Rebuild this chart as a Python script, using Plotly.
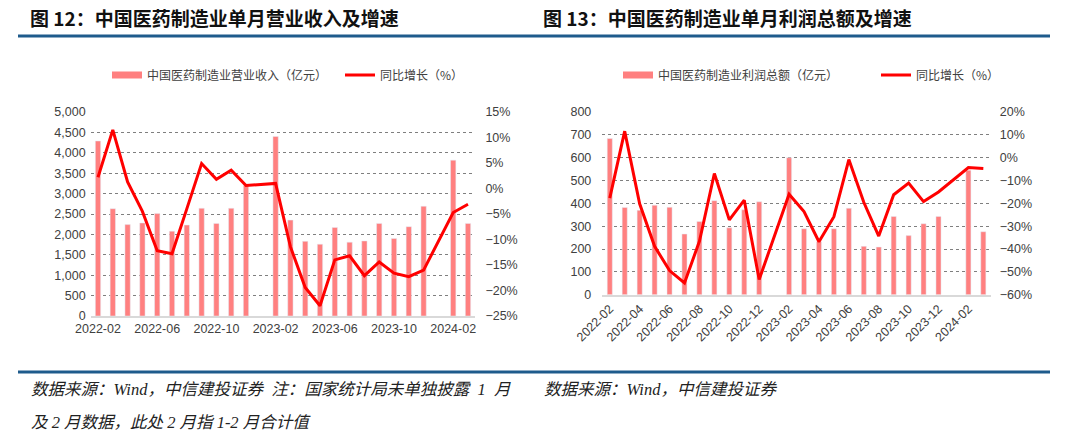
import plotly.graph_objects as go

months = ["2022-02", "2022-03", "2022-04", "2022-05", "2022-06", "2022-07", "2022-08",
          "2022-09", "2022-10", "2022-11", "2022-12", "2023-01", "2023-02", "2023-03",
          "2023-04", "2023-05", "2023-06", "2023-07", "2023-08", "2023-09", "2023-10",
          "2023-11", "2023-12", "2024-01", "2024-02", "2024-03"]

revenue = [4290, 2630, 2240, 2280, 2510, 2080, 2230, 2640, 2270, 2640, 3200, None,
           4400, 2350, 1830, 1760, 2170, 1810, 1840, 2270, 1900, 2190, 2690, None,
           3820, 2270]
revenue_yoy = [2.2, 11.5, 1.3, -4.5, -12.2, -12.8, -4.0, 4.9, 1.8, 3.6, 0.6, None,
               1.0, -11.4, -19.4, -23.0, -14.0, -13.2, -17.1, -14.4, -16.6, -17.3, -16.0, None,
               -4.7, -3.1]

profit = [684, 382, 370, 392, 383, 266, 321, 412, 293, 372, 407, None,
          600, 289, 232, 289, 379, 212, 209, 343, 259, 311, 343, None,
          545, 276]
profit_yoy = [-17.7, 11.6, -20.2, -38.8, -49.4, -54.8, -36.6, -6.9, -27.2, -18.6, -53.3, None,
              -16.0, -23.6, -36.8, -25.8, -0.8, -19.5, -34.3, -16.2, -11.1, -19.2, -15.0, None,
              -4.3, -4.7]

left_ticks = ["2022-02", "2022-06", "2022-10", "2023-02", "2023-06", "2023-10", "2024-02"]
right_ticks = ["2022-02", "2022-04", "2022-06", "2022-08", "2022-10", "2022-12", "2023-02",
               "2023-04", "2023-06", "2023-08", "2023-10", "2023-12", "2024-02"]

title_left = "图 12：中国医药制造业单月营业收入及增速"
title_right = "图 13：中国医药制造业单月利润总额及增速"
name_rev = "中国医药制造业营业收入（亿元）"
name_profit = "中国医药制造业利润总额（亿元）"
name_yoy = "同比增长（%）"
note_left_1 = "数据来源：Wind，中信建投证券  注：国家统计局未单独披露  1  月"
note_left_2 = "及 2 月数据，此处 2 月指 1-2 月合计值"
note_right = "数据来源：Wind，中信建投证券"

W, H = 1080, 442
BAR = "#FF8080"
RED = "#FF0000"
BLUE = "#1E5B8C"
TXT = "#404040"
CJK = "Noto Sans CJK SC"
NUM = "Liberation Sans, Arial, sans-serif"


def px(x):
    return x / W


def py(y):
    return 1 - y / H


fig = go.Figure()

# left chart
fig.add_trace(go.Bar(x=months, y=revenue, xaxis="x", yaxis="y", marker_color=BAR,
                     width=0.36, showlegend=False, name=name_rev))
fig.add_trace(go.Scatter(x=[None], y=[None], xaxis="x", yaxis="y", mode="lines",
                         line=dict(color=BAR, width=7), name=name_rev, legend="legend"))
fig.add_trace(go.Scatter(x=months, y=revenue_yoy, xaxis="x", yaxis="y2", mode="lines",
                         line=dict(color=RED, width=3), connectgaps=True,
                         name=name_yoy, legend="legend"))

# right chart
fig.add_trace(go.Bar(x=months, y=profit, xaxis="x2", yaxis="y3", marker_color=BAR,
                     width=0.34, showlegend=False, name=name_profit))
fig.add_trace(go.Scatter(x=[None], y=[None], xaxis="x2", yaxis="y3", mode="lines",
                         line=dict(color=BAR, width=7), name=name_profit, legend="legend2"))
fig.add_trace(go.Scatter(x=months, y=profit_yoy, xaxis="x2", yaxis="y4", mode="lines",
                         line=dict(color=RED, width=3), connectgaps=True,
                         name=name_yoy, legend="legend2"))

tickfont = dict(family=NUM, size=12.5, color=TXT)

fig.update_layout(
    width=W, height=H,
    margin=dict(l=0, r=0, t=0, b=0, autoexpand=False),
    paper_bgcolor="white", plot_bgcolor="white",
    hovermode=False,
    xaxis=dict(domain=[px(90.6), px(475.4)], anchor="y", type="category",
               categoryorder="array", categoryarray=months, range=[-0.5, 25.5],
               tickmode="array", tickvals=left_ticks, ticktext=left_ticks,
               tickangle=0, showgrid=False, showline=True, linecolor="#D9D9D9",
               linewidth=1.5, ticks="", tickfont=tickfont, automargin=False),
    yaxis=dict(domain=[py(316), py(112)], anchor="x", range=[0, 5000], dtick=500,
               tickformat=",", showgrid=True, gridcolor="#7F7F7F", griddash="dot",
               gridwidth=1, zeroline=False, ticks="", tickfont=tickfont,
               ticklabelstandoff=4, automargin=False),
    yaxis2=dict(overlaying="y", anchor="x", side="right", range=[-25, 15], dtick=5,
                ticksuffix="%", showgrid=False, zeroline=False, ticks="",
                tickfont=tickfont, ticklabelstandoff=9, automargin=False),
    xaxis2=dict(domain=[px(602.3), px(990.8)], anchor="y3", type="category",
                categoryorder="array", categoryarray=months, range=[-0.5, 25.5],
                tickmode="array", tickvals=right_ticks, ticktext=right_ticks,
                tickangle=-45, showgrid=False, showline=True, linecolor="#D9D9D9",
                linewidth=1.5, ticks="", tickfont=tickfont, automargin=False),
    yaxis3=dict(domain=[py(294.8), py(112)], anchor="x2", range=[0, 800], dtick=100,
                showgrid=True, gridcolor="#7F7F7F", griddash="dot", gridwidth=1,
                zeroline=False, ticks="", tickfont=tickfont, ticklabelstandoff=10,
                automargin=False),
    yaxis4=dict(overlaying="y3", anchor="x2", side="right", range=[-60, 20], dtick=10,
                ticksuffix="%", showgrid=False, zeroline=False, ticks="",
                tickfont=tickfont, ticklabelstandoff=8, automargin=False),
    legend=dict(orientation="h", x=px(107), y=py(75), xanchor="left", yanchor="middle",
                font=dict(family=CJK, size=12, color=TXT), bgcolor="rgba(0,0,0,0)",
                entrywidth=188, entrywidthmode="pixels", itemwidth=30),
    legend2=dict(orientation="h", x=px(618), y=py(75), xanchor="left", yanchor="middle",
                 font=dict(family=CJK, size=12, color=TXT), bgcolor="rgba(0,0,0,0)",
                 entrywidth=213, entrywidthmode="pixels", itemwidth=30),
)

# header / footer rules
for yy in (36, 372):
    fig.add_shape(type="line", xref="paper", yref="paper", x0=px(18), x1=px(1050),
                  y0=py(yy), y1=py(yy), line=dict(color=BLUE, width=3))

ann_title = dict(family=CJK, size=19, color="#111111", weight="bold")
fig.add_annotation(text=title_left, x=px(28), y=py(18), xref="paper", yref="paper",
                   xanchor="left", yanchor="middle", showarrow=False, font=ann_title)
fig.add_annotation(text=title_right, x=px(541), y=py(18), xref="paper", yref="paper",
                   xanchor="left", yanchor="middle", showarrow=False, font=ann_title)

note_font = dict(family="Liberation Serif, " + CJK, size=16.5, color="#222222", style="italic")
fig.add_annotation(text=note_left_1, x=px(29), y=py(389), xref="paper", yref="paper",
                   xanchor="left", yanchor="middle", showarrow=False, font=note_font)
fig.add_annotation(text=note_left_2, x=px(29), y=py(422), xref="paper", yref="paper",
                   xanchor="left", yanchor="middle", showarrow=False, font=note_font)
fig.add_annotation(text=note_right, x=px(542), y=py(389), xref="paper", yref="paper",
                   xanchor="left", yanchor="middle", showarrow=False, font=note_font)

# remove the default 8px page margin so the figure fills the window exactly
fig.write_html("out.html", config={"displayModeBar": False, "displaylogo": False},
               post_script="document.body.style.margin='0';")
